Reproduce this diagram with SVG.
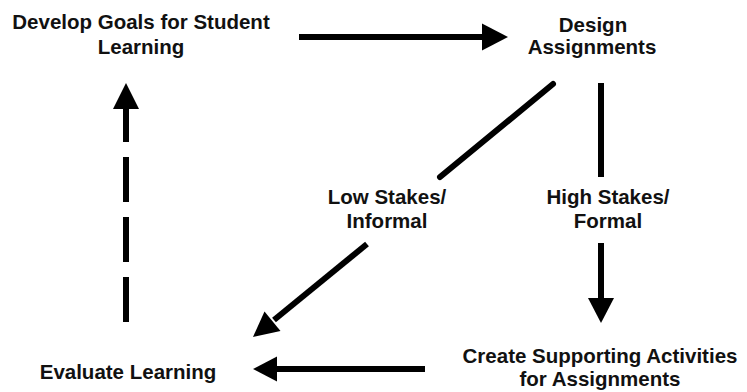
<svg xmlns="http://www.w3.org/2000/svg" width="747" height="392" viewBox="0 0 747 392">
<style>
  text { font-family: "Liberation Sans", Arial, Helvetica, sans-serif; font-weight: bold; font-size: 20.5px; fill: #111; text-anchor: middle; }
  .ln { stroke: #000; stroke-width: 6; fill: none; }
  .hd { fill: #000; stroke: none; }
</style>
<rect width="747" height="392" fill="#fff"/>
<g id="node-goals">
  <text x="141" y="29">Develop Goals for Student</text>
  <text x="141" y="54">Learning</text>
</g>
<g id="node-design">
  <text x="593" y="32">Design</text>
  <text x="592" y="54">Assignments</text>
</g>
<g id="node-create">
  <text x="600" y="363">Create Supporting Activities</text>
  <text x="600" y="386">for Assignments</text>
</g>
<g id="node-evaluate">
  <text x="128" y="379">Evaluate Learning</text>
</g>
<g id="connectors">
  <!-- goals -> design -->
  <line class="ln" x1="299" y1="37" x2="484" y2="37"/>
  <polygon class="hd" points="482,23.5 508,37 482,50.5"/>
  <!-- design -> create (high stakes) -->
  <line class="ln" x1="601" y1="83" x2="601" y2="177"/>
  <line class="ln" x1="601" y1="243" x2="601" y2="300"/>
  <polygon class="hd" points="588,298 614,298 601,323"/>
  <text x="608" y="204">High Stakes/</text>
  <text x="608" y="228">Formal</text>
  <!-- design -> evaluate (low stakes) -->
  <line class="ln" x1="553" y1="84" x2="440" y2="177" stroke-linecap="round"/>
  <line class="ln" x1="367" y1="244" x2="274" y2="320"/>
  <polygon class="hd" points="264.5,311.5 280.5,331 253,337"/>
  <text x="387" y="204">Low Stakes/</text>
  <text x="387" y="228">Informal</text>
  <!-- create -> evaluate -->
  <line class="ln" x1="425" y1="369" x2="275" y2="369"/>
  <polygon class="hd" points="277,356.5 253,369 277,381.5"/>
  <!-- evaluate -> goals (dashed) -->
  <line class="ln" x1="126" y1="322" x2="126" y2="109" stroke-dasharray="45 15"/>
  <polygon class="hd" points="113,109 139,109 126,83"/>
</g>
</svg>
